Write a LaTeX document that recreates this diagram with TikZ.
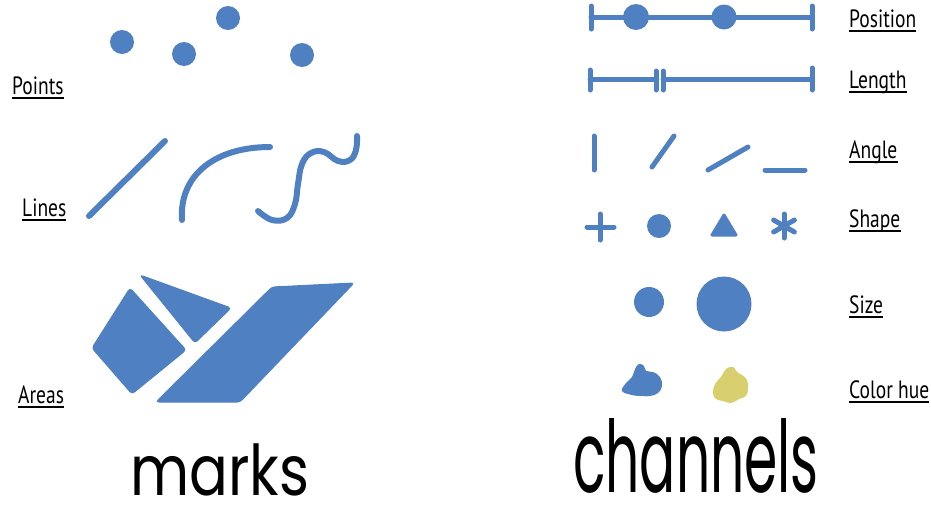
\documentclass[tikz,border=0pt]{standalone}
\usepackage{fontspec}
\setmainfont{PT Sans}
\newfontfamily\handfont{Poppins}
\definecolor{mblue}{RGB}{79,128,193}
\definecolor{myellow}{RGB}{216,207,110}
\newcommand{\labtxt}[1]{\scalebox{0.78}[1]{\fontsize{25}{25}\selectfont #1}}
\begin{document}
\begin{tikzpicture}[x=1pt,y=-1pt,
  lab/.style={anchor=base west,inner sep=0pt,text=black},
  uline/.style={line width=1.6pt,black},
  mk/.style={line width=6pt,mblue,line cap=round,line join=round},
  ch/.style={line width=5pt,mblue,line cap=round,line join=round},
  area/.style={fill=mblue,draw=mblue,line width=1pt,rounded corners=3pt},
  big/.style={anchor=base west,inner sep=0pt,text=black,text depth=0pt}]
\useasboundingbox (0,0) rectangle (931,507);
% ---------- marks: points
\fill[mblue] (122,42) circle (12);
\fill[mblue] (184,54) circle (12);
\fill[mblue] (228,18) circle (12);
\fill[mblue] (302,55) circle (12);
% lines
\draw[mk] (89,216) -- (165,141);
\draw[mk] (182,220) .. controls (179,176) and (214,147) .. (270,147);
\draw[mk] plot[smooth,tension=0.7] coordinates {(258,211) (272,220) (287,218) (295,204) (298,184) (302,164) (311,153) (324,152) (338,161) (350,160) (356,150) (357,136)};
% areas
\draw[area] (130,288) -- (186,350) -- (132,394) -- (92,348) -- cycle;
\draw[area] (140,275) -- (231,308) -- (195,343) -- cycle;
\draw[area] (272,287) -- (354,283) -- (240,402) -- (156,402) -- cycle;
% labels left
\node[lab] (points) at (12,94) {\labtxt{Points}};
\node[lab] (lines) at (22,216) {\labtxt{Lines}};
\node[lab] (areas) at (18,403) {\labtxt{Areas}};
% ---------- channels: position
\draw[ch] (591,17) -- (812,17);
\draw[ch] (591,6) -- (591,29);
\draw[ch] (812,6) -- (812,29);
\fill[mblue] (636,17) circle (13);
\fill[mblue] (724,17) circle (12.5);
% length
\draw[ch] (590,79) -- (656,79);
\draw[ch] (663,79) -- (812,79);
\draw[ch] (590,70) -- (590,90);
\draw[ch] (656,71) -- (656,90);
\draw[ch] (663,71) -- (663,90);
\draw[ch] (812,68) -- (812,90);
% angle
\draw[ch] (594,136) -- (594,170);
\draw[ch] (652,167) -- (674,136);
\draw[ch] (708,170) -- (748,147);
\draw[ch] (765,170) -- (805,170);
% shape
\draw[ch] (587,227) -- (614,227);
\draw[ch] (600,214) -- (600,240);
\fill[mblue] (659,226) circle (12);
\draw[mblue,fill=mblue,line width=3pt,line join=round] (724,215) -- (736,235) -- (712,235) -- cycle;
\draw[ch] (784,214) -- (784,238);
\draw[ch] (773.6,220) -- (794.4,232);
\draw[ch] (773.6,232) -- (794.4,220);
% size
\fill[mblue] (649,302) circle (15);
\fill[mblue] (724,304) circle (27.5);
% color hue
\fill[mblue] plot[smooth cycle,tension=0.7] coordinates {(622,391) (626,383) (632,377) (635,369) (639,364) (644,366) (646,371) (653,372) (660,377) (662,386) (658,393) (650,396) (642,396) (632,395)};
\fill[myellow] plot[smooth cycle,tension=0.7] coordinates {(713,393) (715,384) (721,377) (726,369) (733,367) (737,372) (742,375) (747,380) (748,388) (746,396) (739,399) (731,403) (723,401) (716,399)};
% labels right
\node[lab] (position) at (849,27) {\labtxt{Position}};
\node[lab] (length) at (849,88) {\labtxt{Length}};
\node[lab] (angle) at (849,158) {\labtxt{Angle}};
\node[lab] (shape) at (849,227) {\labtxt{Shape}};
\node[lab] (size) at (849,313) {\labtxt{Size}};
\node[lab] (colorhue) at (849,398) {\labtxt{Color hue}};
% underlines
\foreach \n in {points,lines,areas,position,length,angle,shape,size,colorhue}{
  \draw[uline] ([yshift=-4pt]\n.base west) -- ([yshift=-4pt]\n.base east);
}
% big words
\node[big] (marks) at (130,495) {\scalebox{0.82}[1]{\handfont\fontsize{70}{70}\selectfont marks}};
\node[big] (channels) at (573,492) {\scalebox{0.535}[1]{\handfont\fontsize{100}{100}\selectfont channels}};
\end{tikzpicture}
\end{document}
